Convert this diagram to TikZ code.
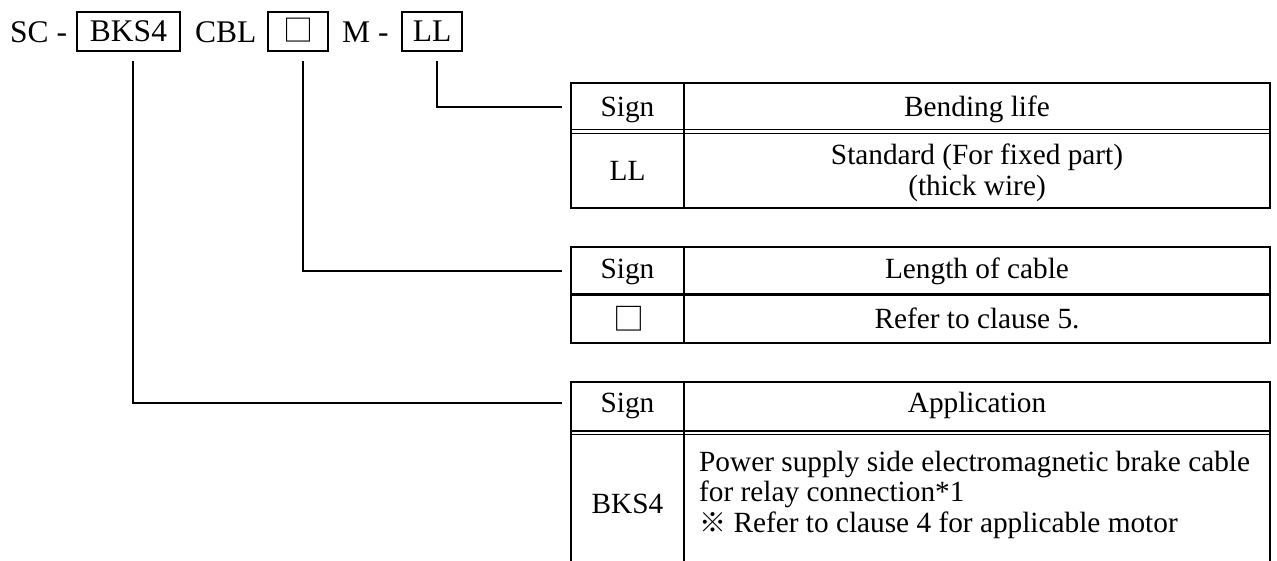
\documentclass[tikz,border=0pt]{standalone}
\usepackage{fontspec}
\setmainfont{Liberation Serif}
\newfontfamily\cjk{Noto Sans CJK JP}
\newcommand{\tabfont}{\fontsize{29.3}{31}\selectfont}
\newcommand{\hdrfont}{\fontsize{31.5}{33}\selectfont}
\begin{document}
\begin{tikzpicture}[x=1pt,y=-1pt,
  frame/.style={line width=1.6pt},
  conn/.style={line width=1.1pt},
  txt/.style={inner sep=0pt, font=\hdrfont},
  tt/.style={inner sep=0pt, font=\tabfont},
  hbox/.style={draw, line width=1.6pt, inner sep=0pt, font=\hdrfont, text height=21pt, text depth=0pt},
  tabframe/.style={draw, line width=1.6pt, inner sep=0pt}]
\useasboundingbox (0,0) rectangle (1277,561);

% header code line
\node[txt, anchor=base west] (sc) at (10,42.5) {SC -};
\node[hbox, minimum width=103pt, minimum height=39pt] (bks) at (128.5,31.5) {BKS4};
\node[txt, anchor=base west] (cbl) at (195,42.5) {CBL};
\node[hbox, minimum width=60pt, minimum height=39pt] (sq) at (298,31.5) {{\cjk\fontsize{30}{30}\selectfont □}};
\node[txt, anchor=base west] (m) at (342,42.5) {M -};
\node[hbox, minimum width=60pt, minimum height=39pt] (ll) at (432,31.5) {LL};

% table 1
\node[tabframe, minimum width=699pt, minimum height=125pt] (tab1) at (920.5,145.5) {};
\draw[frame] (684,83) -- (684,208);
\draw[line width=1.1pt] (571,129.5) -- (1270,129.5) (571,133.2) -- (1270,133.2);
\node[tt, anchor=base] (t1s) at (627.5,117) {Sign};
\node[tt, anchor=base] (t1h) at (977,117) {Bending life};
\node[tt, anchor=base] (t1c) at (627.5,181) {LL};
\node[tt, anchor=base] (t1d1) at (977,165) {Standard (For fixed part)};
\node[tt, anchor=base] (t1d2) at (977,196) {(thick wire)};

% table 2
\node[tabframe, minimum width=699pt, minimum height=96pt] (tab2) at (920.5,295) {};
\draw[frame] (684,247) -- (684,343);
\draw[line width=2.6pt] (571,294.5) -- (1270,294.5);
\node[tt, anchor=base] (t2s) at (627.5,279) {Sign};
\node[tt, anchor=base] (t2h) at (977,279) {Length of cable};
\node[tt] (t2c) at (629,319) {{\cjk\fontsize{31}{31}\selectfont □}};
\node[tt, anchor=base] (t2d) at (977,328) {Refer to clause 5.};

% table 3
\draw[frame] (571,561) -- (571,382) -- (1270,382) -- (1270,561);
\draw[frame] (684,382) -- (684,561);
\draw[line width=1.1pt] (571,431) -- (1270,431) (571,434.7) -- (1270,434.7);
\node[tt, anchor=base] (t3s) at (627.5,412) {Sign};
\node[tt, anchor=base] (t3h) at (977,412) {Application};
\node[tt, anchor=base] (t3c) at (627.5,513) {BKS4};
\node[tt, anchor=base west] (t3d1) at (699,471) {Power supply side electromagnetic brake cable};
\node[tt, anchor=base west] (t3d2) at (699,501.5) {for relay connection*1};
\node[tt, anchor=base west] (t3d3) at (699,532) {{\cjk\fontsize{27}{27}\selectfont ※}\ Refer to clause 4 for applicable motor};

% connectors
\coordinate (e1) at (562,107);
\coordinate (e2) at (562,271);
\coordinate (e3) at (562,403);
\draw[conn] ([xshift=5pt,yshift=-9pt]ll.south) |- (e1);
\draw[conn] ([xshift=5pt,yshift=-9pt]sq.south) |- (e2);
\draw[conn] ([xshift=4.5pt,yshift=-9pt]bks.south) |- (e3);
\end{tikzpicture}
\end{document}
